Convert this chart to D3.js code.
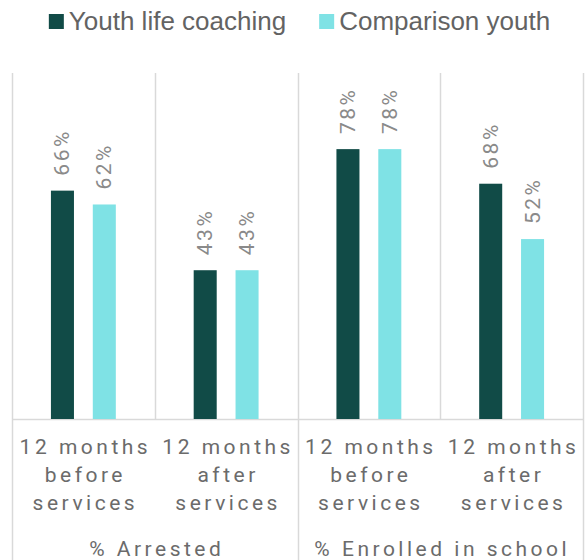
<!DOCTYPE html>
<html>
<head>
<meta charset="utf-8">
<script src="https://cdn.jsdelivr.net/npm/d3@7"></script>
<style>
  body { margin: 0; background: #fff; }
  .legend-text { font-family: 'Liberation Sans', Arial, sans-serif; font-size: 26px; fill: #636363; }
  .cat-label { font-family: Roboto, 'DejaVu Sans', sans-serif; font-size: 21px; fill: #6b6b6b; letter-spacing: 3.5px; }
  .value-label { font-family: Roboto, 'DejaVu Sans', sans-serif; font-size: 21px; fill: #8a8a8a; letter-spacing: 2.5px; }
</style>
</head>
<body>
<div id="chart"></div>
<script>
// data
const groups = ['% Arrested', '% Enrolled in school'];
const periods = [['12 months', 'before', 'services'], ['12 months', 'after', 'services']];
const categories = ['Arrested-before', 'Arrested-after', 'Enrolled-before', 'Enrolled-after'];
const series = ['Youth life coaching', 'Comparison youth'];
const coachingValues = [0.66, 0.43, 0.78, 0.68];
const comparisonValues = [0.62, 0.43, 0.78, 0.52];
const colors = ['#114b47', '#7fe2e5'];

const width = 587, height = 560;
const margin = { top: 73, left: 12, right: 4, bottom: 141 };

const svg = d3.select('#chart').append('svg')
    .attr('width', width)
    .attr('height', height);

const x0 = d3.scaleBand()
    .domain(categories)
    .range([margin.left, width - margin.right])
    .padding(0);

const x1 = d3.scaleBand()
    .domain(series)
    .range([0, x0.bandwidth()])
    .paddingInner(0.45)
    .paddingOuter(0.93);

const y = d3.scaleLinear()
    .domain([0, 1])
    .range([height - margin.bottom, margin.top]);

const rows = categories.map((c, i) => ({
    cat: c,
    values: [coachingValues[i], comparisonValues[i]]
}));

// separators: inner ones stop at baseline, group ones run to the bottom
const edges = categories.map(c => x0(c)).concat([x0.range()[1]]);
svg.selectAll('.sep')
    .data(edges)
    .join('line')
    .attr('class', 'sep')
    .attr('x1', d => Math.round(d) + 0.5)
    .attr('x2', d => Math.round(d) + 0.5)
    .attr('y1', y(1))
    .attr('y2', (d, i) => i % 2 === 0 ? height : y(0))
    .attr('stroke', '#d9d9d9')
    .attr('stroke-width', 1.5);

// x axis
const xAxisG = svg.append('g')
    .attr('transform', `translate(0,${y(0)})`)
    .call(d3.axisBottom(x0).tickSize(0).tickFormat(''));
xAxisG.select('.domain').attr('stroke', '#d9d9d9').attr('stroke-width', 1.5);

// category labels
const catText = svg.selectAll('.cat-label')
    .data(categories)
    .join('text')
    .attr('class', 'cat-label')
    .attr('text-anchor', 'middle')
    .attr('y', y(0) + 35);
catText.each(function (c, i) {
    const lines = periods[i % 2];
    const t = d3.select(this);
    lines.forEach((l, j) => {
        t.append('tspan')
            .attr('x', x0(c) + x0.bandwidth() / 2 + 2)
            .attr('dy', j === 0 ? 0 : 28)
            .text(l);
    });
});

// group labels
svg.selectAll('.group-label')
    .data(groups)
    .join('text')
    .attr('class', 'cat-label')
    .attr('text-anchor', 'middle')
    .attr('x', (g, i) => (x0(categories[i * 2]) + x0(categories[i * 2 + 1]) + x0.bandwidth()) / 2 + 2)
    .attr('y', y(0) + 137)
    .text(g => g);

// bars
const catG = svg.selectAll('.cat')
    .data(rows)
    .join('g')
    .attr('class', 'cat')
    .attr('transform', d => `translate(${x0(d.cat)},0)`);

catG.selectAll('rect')
    .data(d => d.values.map((v, i) => ({ s: series[i], v: v, i: i })))
    .join('rect')
    .attr('x', d => x1(d.s))
    .attr('y', d => y(d.v))
    .attr('width', x1.bandwidth())
    .attr('height', d => y(0) - y(d.v))
    .attr('fill', d => colors[d.i]);

catG.selectAll('.value-label')
    .data(d => d.values.map((v, i) => ({ s: series[i], v: v })))
    .join('text')
    .attr('class', 'value-label')
    .attr('transform', d => `translate(${x1(d.s) + x1.bandwidth() / 2 + 7},${y(d.v) - 15}) rotate(-90)`)
    .attr('text-anchor', 'start')
    .text(d => Math.round(d.v * 100) + '%');

// legend
const legend = svg.append('g').attr('class', 'legend');
let lx = 0;
series.forEach((s, i) => {
    const item = legend.append('g').attr('transform', `translate(${lx},0)`);
    item.append('rect')
        .attr('x', 0).attr('y', 14)
        .attr('width', 15).attr('height', 15)
        .attr('fill', colors[i]);
    const t = item.append('text')
        .attr('class', 'legend-text')
        .attr('x', 20)
        .attr('y', 30)
        .text(s);
    lx += 20 + t.node().getComputedTextLength() + 33;
});
const legendW = lx - 33;
legend.attr('transform', `translate(${(width - legendW) / 2 + 6},0)`);
</script>
</body>
</html>
